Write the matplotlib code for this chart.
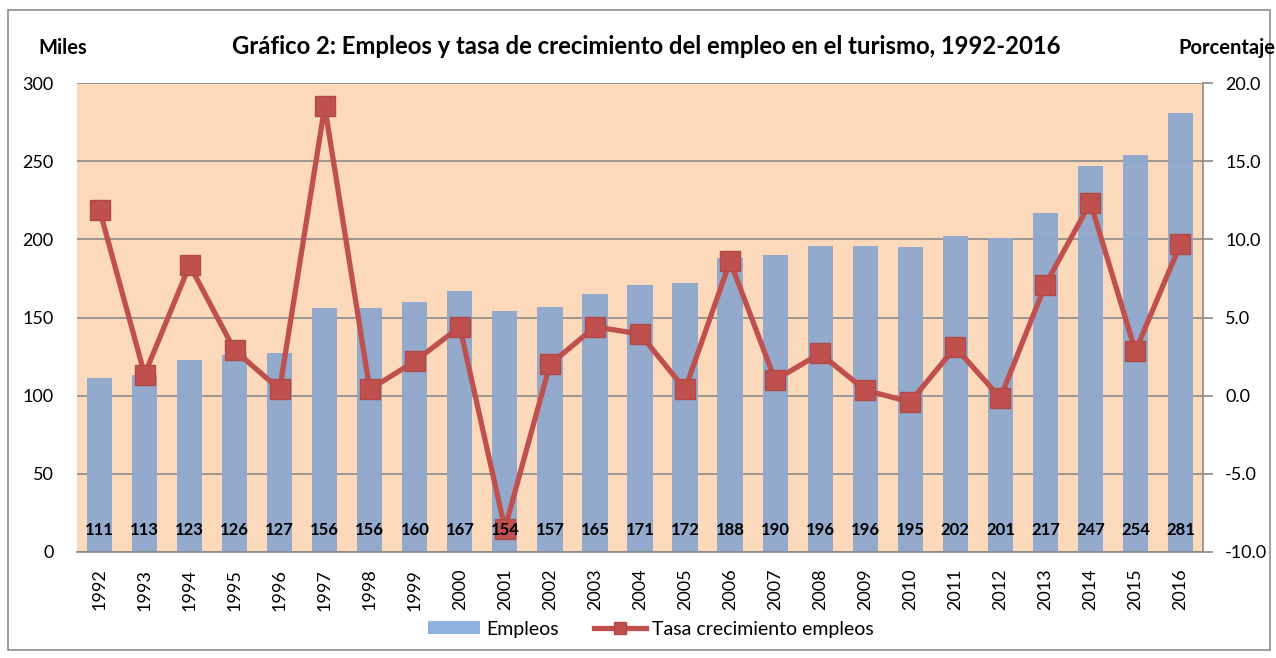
import matplotlib
matplotlib.use("Agg")
import matplotlib.pyplot as plt
from matplotlib.patches import Rectangle, Patch
from matplotlib.lines import Line2D

years = [str(y) for y in range(1992, 2017)]
empleos = [111, 113, 123, 126, 127, 156, 156, 160, 167, 154, 157, 165, 171, 172,
           188, 190, 196, 196, 195, 202, 201, 217, 247, 254, 281]
tasa = [11.9, 1.35, 8.35, 2.9, 0.4, 18.5, 0.4, 2.2, 4.4, -8.5, 2.0, 4.4, 3.95, 0.4,
        8.6, 1.0, 2.7, 0.35, -0.4, 3.1, -0.15, 7.1, 12.35, 2.85, 9.7]

plt.rcParams['font.family'] = ['Lato', 'DejaVu Sans']

W, H = 1276, 658
fig = plt.figure(figsize=(W / 100, H / 100), dpi=100)
fig.patch.set_facecolor('white')

# outer border
fig.patches.append(Rectangle((8 / W, 8 / H), 1262 / W, 640 / H, transform=fig.transFigure,
                             fill=False, edgecolor='#8c8c8c', linewidth=1.2))

left, right, top, bottom = 77, 1203, 83, 552
ax = fig.add_axes([left / W, 1 - bottom / H, (right - left) / W, (bottom - top) / H])
ax.set_facecolor('#FCD9BB')

x = list(range(len(years)))
ax.set_xlim(-0.5, len(years) - 0.5)
ax.set_ylim(0, 300)
ax.set_yticks(range(0, 301, 50))
ax.yaxis.grid(True, color='#8a8a8a', linewidth=1.2, zorder=0)
ax.set_axisbelow(True)
bars = ax.bar(x, empleos, width=0.56, color='#8EA8CE', alpha=0.95, zorder=2)

ax.set_xticks(x)
ax.set_xticklabels(years, rotation=90, fontsize=13)
ax.tick_params(axis='x', length=0, pad=12)
ax.tick_params(axis='y', length=0, labelsize=13, pad=17)
for s in ['top', 'left', 'right']:
    ax.spines[s].set_visible(False)
ax.spines['bottom'].set_color('#8a8a8a')
ax.spines['bottom'].set_linewidth(1.2)

ax2 = ax.twinx()
ax2.set_ylim(-10, 20)
ax2.set_yticks([-10, -5, 0, 5, 10, 15, 20])
ax2.set_yticklabels([f"{v:.1f}" for v in [-10, -5, 0, 5, 10, 15, 20]])
ax2.tick_params(axis='y', labelsize=13, length=7, color='#8a8a8a', width=1.2, pad=9)
line, = ax2.plot(x, tasa, color='#C0504D', linewidth=3.8, marker='s', markersize=14,
                 markerfacecolor='#C0504D', markeredgecolor='#B04845', zorder=6)
for s in ['top', 'left', 'bottom']:
    ax2.spines[s].set_visible(False)
ax2.spines['right'].set_color('#8a8a8a')
ax2.spines['right'].set_linewidth(1.2)

# bar value labels drawn above the line series
for xi, v in zip(x, empleos):
    ax2.text(xi, 14, str(v), transform=ax.transData, ha='center', va='center',
             fontsize=12, fontweight='bold', color='black', zorder=10)

fig.text(646 / W, 1 - 47 / H, 'Gráfico 2: Empleos y tasa de crecimiento del empleo en el turismo, 1992-2016',
         ha='center', va='center', fontsize=17.2, fontweight='bold')
fig.text(63 / W, 1 - 48 / H, 'Miles', ha='center', va='center', fontsize=14.5, fontweight='bold')
fig.text(1227 / W, 1 - 48 / H, 'Porcentaje', ha='center', va='center', fontsize=14.5, fontweight='bold')

h_bar = Patch(facecolor='#8EB3E1', edgecolor='none')
h_line = Line2D([], [], color='#C0504D', linewidth=3.8, marker='s', markersize=9,
                markerfacecolor='#C0504D', markeredgecolor='#B04845')
fig.legend([h_bar, h_line], ['Empleos', 'Tasa crecimiento empleos'], loc='center',
           bbox_to_anchor=(651 / W, 1 - 629 / H), ncol=2, frameon=False, fontsize=14,
           handlelength=2.7, handleheight=0.6, columnspacing=1.8, handletextpad=0.3)

fig.savefig('out.png', dpi=100, facecolor='white')
